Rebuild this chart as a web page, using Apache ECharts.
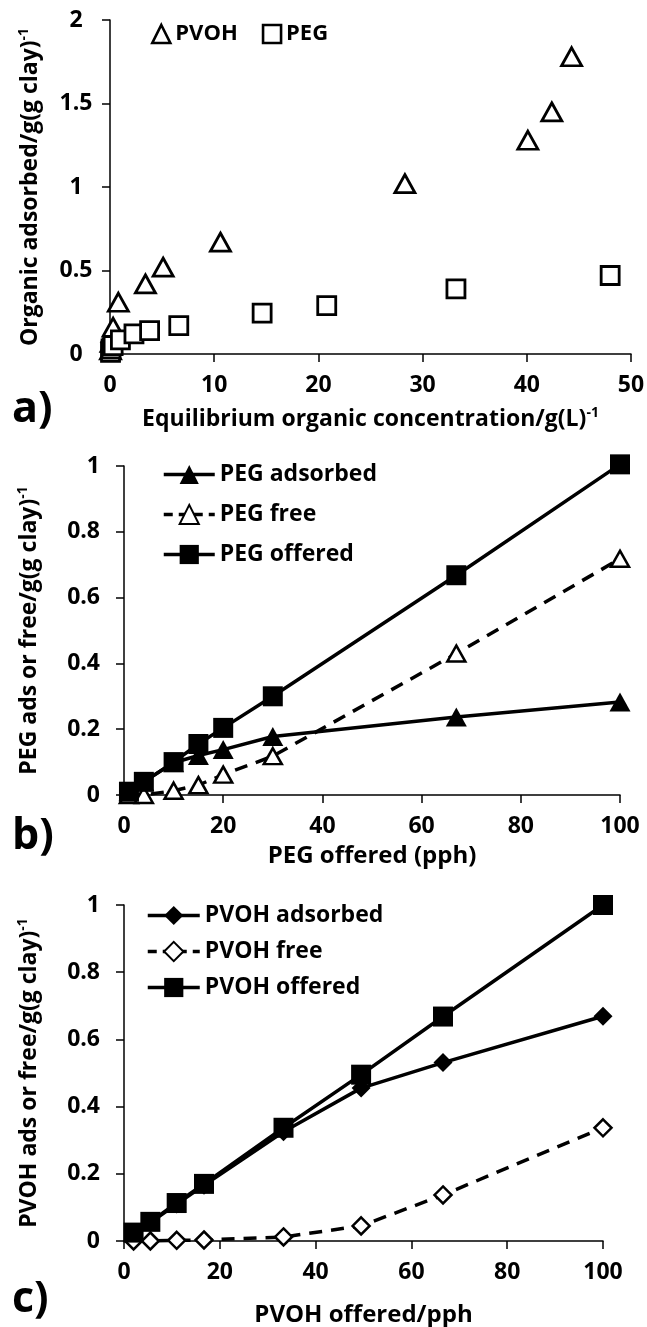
<!DOCTYPE html>
<html>
<head>
<meta charset="utf-8">
<script src="https://cdn.jsdelivr.net/npm/echarts@6/dist/echarts.min.js"></script>
<style>
html,body{margin:0;padding:0;background:#fff;}
#chart{width:647px;height:1327px;}
</style>
</head>
<body>
<div id="chart"></div>
<script>
// Panel a: adsorption isotherms
const pvohEqConc   = [0.05, 0.1, 0.2, 0.3, 0.8, 3.4, 5.1, 10.6, 28.3, 40.1, 42.4, 44.3];
const pvohAdsorbedA = [0.025, 0.07, 0.13, 0.16, 0.31, 0.42, 0.52, 0.67, 1.02, 1.28, 1.45, 1.78];
const pegEqConc    = [0.05, 0.1, 0.3, 1.0, 2.3, 3.8, 6.6, 14.6, 20.8, 33.2, 48.0];
const pegAdsorbedA = [0.01, 0.03, 0.05, 0.085, 0.12, 0.14, 0.17, 0.245, 0.29, 0.39, 0.47];

// Panel b: PEG
const pegOfferedPph = [1, 4, 10, 15, 20, 30, 67, 100];
const pegAdsorbedB  = [0.01, 0.04, 0.098, 0.12, 0.138, 0.178, 0.237, 0.283];
const pegFreeB      = [0, 0, 0.013, 0.03, 0.062, 0.118, 0.43, 0.718];
const pegOfferedB   = [0.01, 0.04, 0.10, 0.155, 0.204, 0.30, 0.668, 1.005];

// Panel c: PVOH
const pvohOfferedPph = [2, 5.5, 11, 16.7, 33.3, 49.5, 66.6, 100];
const pvohAdsorbedC  = [0.02, 0.055, 0.11, 0.166, 0.325, 0.455, 0.531, 0.669];
const pvohFreeC      = [0, 0, 0.002, 0.003, 0.012, 0.045, 0.137, 0.337];
const pvohOfferedC   = [0.025, 0.057, 0.113, 0.17, 0.337, 0.495, 0.668, 1.0];

const FONT = 'Open Sans';
const pair = (xs, ys) => xs.map((x, i) => [x, ys[i]]);

function rich(size) {
  return {
    t: {fontSize: size, fontWeight: 'bold', fontFamily: FONT, color: '#000', lineHeight: size + 4},
    s: {fontSize: Math.round(size * 0.6), fontWeight: 'bold', fontFamily: FONT, color: '#000', verticalAlign: 'top', lineHeight: Math.round(size * 0.6)}
  };
}

function axisBase(labelExtra) {
  return {
    axisLine: {show: true, onZero: false, lineStyle: {color: '#000', width: 1.5}},
    axisTick: {show: true, inside: false, length: 8, lineStyle: {color: '#000', width: 1.5}},
    splitLine: {show: false},
    axisLabel: Object.assign({color: '#000', fontFamily: FONT, fontWeight: 'bold', fontSize: 23}, labelExtra)
  };
}

function xAxis(gi, max, interval, name, gap, nameSize) {
  return Object.assign(axisBase({margin: 20}), {
    type: 'value', gridIndex: gi, min: 0, max: max, interval: interval,
    name: name, nameLocation: 'middle', nameGap: gap,
    nameTextStyle: {rich: rich(nameSize)}
  });
}
function yAxis(gi, max, interval, name, gap, labelExtra) {
  return Object.assign(axisBase(labelExtra), {
    type: 'value', gridIndex: gi, min: 0, max: max, interval: interval,
    name: name, nameLocation: 'middle', nameGap: gap, nameRotate: 90,
    nameTextStyle: {rich: rich(23)}
  });
}

const lineSolid = {color: '#000', width: 3.5};
const lineDash = {color: '#000', width: 3.5, type: [13, 9]};
const legendText = {fontFamily: FONT, fontWeight: 'bold', fontSize: 23, color: '#000'};
const legItem = (name, dashed) => ({name: name, lineStyle: {width: 3.5, type: dashed ? [9, 6] : 'solid'}});

const option = {
  backgroundColor: '#fff',
  animation: false,
  textStyle: {fontFamily: FONT},
  grid: [
    {left: 110, top: 20, width: 521, height: 334, containLabel: false, outerBoundsMode: 'none'},
    {left: 124, top: 466, width: 496, height: 329, containLabel: false, outerBoundsMode: 'none'},
    {left: 124, top: 905, width: 479, height: 336, containLabel: false, outerBoundsMode: 'none'}
  ],
  xAxis: [
    xAxis(0, 50, 10, '{t|Equilibrium organic concentration/g(L)}{s|-1}', 52, 23),
    xAxis(1, 100, 20, '{t|PEG offered (pph)}', 47, 24),
    xAxis(2, 100, 20, '{t|PVOH offered/pph}', 60, 24)
  ],
  yAxis: [
    yAxis(0, 2, 0.5, '{t|Organic adsorbed/g(g clay)}{s|-1}', 66, {align: 'center', margin: 34}),
    yAxis(1, 1, 0.2, '{t|PEG ads or free/g(g clay)}{s|-1}', 81, {margin: 24}),
    yAxis(2, 1, 0.2, '{t|PVOH ads or free/g(g clay)}{s|-1}', 81, {margin: 24})
  ],
  legend: [
    {
      left: 146, top: 18, orient: 'horizontal', itemWidth: 18, itemHeight: 18, itemGap: 24,
      itemStyle: {borderWidth: 2.6},
      data: ['PVOH', 'PEG'], textStyle: {fontFamily: FONT, fontWeight: 'bold', fontSize: 22, color: '#000'}
    },
    {
      left: 157, top: 458, orient: 'vertical', itemWidth: 51, itemHeight: 24, itemGap: 17,
      lineStyle: {width: 3.5},
      data: [legItem('PEG adsorbed'), legItem('PEG free', true), legItem('PEG offered')], textStyle: legendText
    },
    {
      left: 141, top: 899, orient: 'vertical', itemWidth: 52, itemHeight: 24, itemGap: 13,
      lineStyle: {width: 3.5},
      data: [legItem('PVOH adsorbed'), legItem('PVOH free', true), legItem('PVOH offered')], textStyle: legendText
    }
  ],
  graphic: [
    {type: 'text', left: 12, top: 388, style: {text: 'a)', font: 'bold 43px "Open Sans"', fill: '#000'}},
    {type: 'text', left: 12, top: 815, style: {text: 'b)', font: 'bold 43px "Open Sans"', fill: '#000'}},
    {type: 'text', left: 12, top: 1278, style: {text: 'c)', font: 'bold 43px "Open Sans"', fill: '#000'}}
  ],
  series: [
    {name: 'PVOH', type: 'scatter', xAxisIndex: 0, yAxisIndex: 0, clip: false,
     symbol: 'triangle', symbolSize: [20, 18],
     itemStyle: {color: '#fff', borderColor: '#000', borderWidth: 2.8, opacity: 1},
     data: pair(pvohEqConc, pvohAdsorbedA)},
    {name: 'PEG', type: 'scatter', xAxisIndex: 0, yAxisIndex: 0, clip: false,
     symbol: 'rect', symbolSize: 18,
     itemStyle: {color: '#fff', borderColor: '#000', borderWidth: 2.8, opacity: 1},
     data: pair(pegEqConc, pegAdsorbedA)},

    {name: 'PEG adsorbed', type: 'line', xAxisIndex: 1, yAxisIndex: 1, clip: false,
     symbol: 'triangle', symbolSize: [21, 19], showAllSymbol: true,
     lineStyle: lineSolid, itemStyle: {color: '#000', borderColor: '#000', borderWidth: 0},
     data: pair(pegOfferedPph, pegAdsorbedB)},
    {name: 'PEG free', type: 'line', xAxisIndex: 1, yAxisIndex: 1, clip: false,
     symbol: 'triangle', symbolSize: [18, 16], showAllSymbol: true,
     lineStyle: lineDash, itemStyle: {color: '#fff', borderColor: '#000', borderWidth: 2.5},
     data: pair(pegOfferedPph, pegFreeB)},
    {name: 'PEG offered', type: 'line', xAxisIndex: 1, yAxisIndex: 1, clip: false,
     symbol: 'rect', symbolSize: 20, showAllSymbol: true,
     lineStyle: lineSolid, itemStyle: {color: '#000', borderColor: '#000', borderWidth: 0},
     data: pair(pegOfferedPph, pegOfferedB)},

    {name: 'PVOH adsorbed', type: 'line', xAxisIndex: 2, yAxisIndex: 2, clip: false,
     symbol: 'diamond', symbolSize: 19, showAllSymbol: true,
     lineStyle: lineSolid, itemStyle: {color: '#000', borderColor: '#000', borderWidth: 0},
     data: pair(pvohOfferedPph, pvohAdsorbedC)},
    {name: 'PVOH free', type: 'line', xAxisIndex: 2, yAxisIndex: 2, clip: false,
     symbol: 'diamond', symbolSize: 17, showAllSymbol: true,
     lineStyle: lineDash, itemStyle: {color: '#fff', borderColor: '#000', borderWidth: 2.5},
     data: pair(pvohOfferedPph, pvohFreeC)},
    {name: 'PVOH offered', type: 'line', xAxisIndex: 2, yAxisIndex: 2, clip: false,
     symbol: 'rect', symbolSize: 20, showAllSymbol: true,
     lineStyle: lineSolid, itemStyle: {color: '#000', borderColor: '#000', borderWidth: 0},
     data: pair(pvohOfferedPph, pvohOfferedC)}
  ]
};

const chart = echarts.init(document.getElementById('chart'), null, {renderer: 'canvas'});
chart.setOption(option);
</script>
</body>
</html>
